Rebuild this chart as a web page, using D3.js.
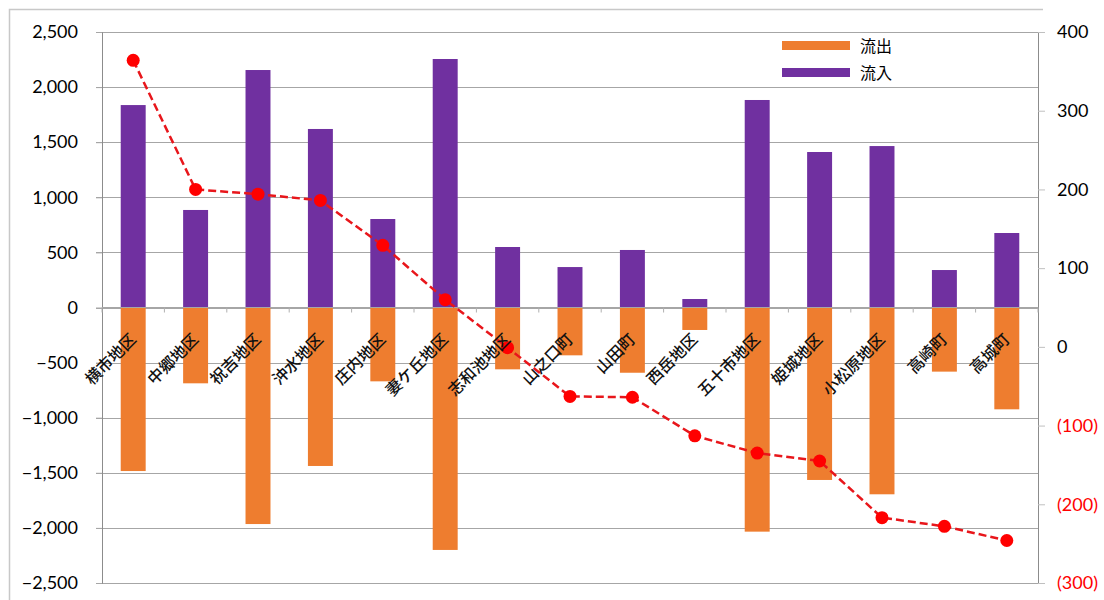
<!DOCTYPE html>
<html><head><meta charset="utf-8">
<script src="https://cdn.jsdelivr.net/npm/d3@7"></script>
<style>
html,body{margin:0;padding:0;background:#fff;}
svg{display:block;}
</style></head>
<body>
<svg id="chart" width="1104" height="600"></svg>
<script>
const categories = ["横市地区","中郷地区","祝吉地区","沖水地区","庄内地区","妻ケ丘地区","志和池地区","山之口町","山田町","西岳地区","五十市地区","姫城地区","小松原地区","高崎町","高城町"];
const inflow  = [1837, 885, 2155, 1620, 803, 2255, 549, 367, 522, 77, 1883, 1411, 1465, 340, 676];
const outflow = [-1484, -688, -1965, -1438, -670, -2200, -561, -434, -592, -204, -2034, -1565, -1695, -582, -924];
const net     = [364, 200, 194, 186, 129, 60, -1, -63, -64, -113, -135, -145, -217, -228, -246];
const leftTicks  = [2500, 2000, 1500, 1000, 500, 0, -500, -1000, -1500, -2000, -2500];
const rightTicks = [400, 300, 200, 100, 0, -100, -200, -300];
const seriesNames = ["流出", "流入"];

const svg = d3.select("#chart");
const L = 102, R = 1038, T = 32, B = 583;
const numFont = "Lato, 'Open Sans', sans-serif";
const cjkFont = "'Noto Sans CJK JP', 'Noto Sans', sans-serif";
const cOut = "#EE7D2F", cIn = "#7030A0", cNet = "#E8161B";

// outer frame
svg.append("path").attr("d", `M9.5,600 V9.5 H1043`).attr("fill","none").attr("stroke","#c8c8c8").attr("stroke-width",1.5);

const x = d3.scaleBand().domain(categories).range([L, R]).paddingInner(0.6).paddingOuter(0.3);
const yL = d3.scaleLinear().domain([-2500, 2500]).range([B, T]);
const yR = d3.scaleLinear().domain([-300, 400]).range([B, T]);

// gridlines
svg.append("g").selectAll("line").data(leftTicks).join("line")
  .attr("x1", L - 6).attr("x2", R)
  .attr("y1", d => Math.round(yL(d)) + 0.5).attr("y2", d => Math.round(yL(d)) + 0.5)
  .attr("stroke", "#a6a6a6").attr("stroke-width", 1);

// left axis
const axL = svg.append("g").attr("transform", `translate(${L},0)`)
  .call(d3.axisLeft(yL).tickValues(leftTicks).tickSize(6).tickPadding(18).tickFormat(d3.format(",")));
axL.select(".domain").attr("stroke", "#8c8c8c");
axL.selectAll(".tick line").attr("stroke", "#a6a6a6");
axL.selectAll("text").attr("font-family", numFont).attr("font-size", 18).attr("fill", "#000");

// right axis
const axR = svg.append("g").attr("transform", `translate(${R},0)`)
  .call(d3.axisRight(yR).tickValues(rightTicks).tickSize(7).tickPadding(12)
    .tickFormat(d => d < 0 ? `(${Math.abs(d)})` : d));
axR.select(".domain").attr("stroke", "#8c8c8c");
axR.selectAll(".tick line").attr("stroke", "#c0c0c0");
axR.selectAll("text").attr("font-family", numFont).attr("font-size", 18)
  .attr("fill", d => d < 0 ? "#FF0000" : "#000");

// bars
svg.append("g").selectAll("rect").data(categories).join("rect")
  .attr("x", d => x(d)).attr("width", x.bandwidth())
  .attr("y", (d, i) => yL(inflow[i])).attr("height", (d, i) => yL(0) - yL(inflow[i]))
  .attr("fill", cIn);
svg.append("g").selectAll("rect").data(categories).join("rect")
  .attr("x", d => x(d)).attr("width", x.bandwidth())
  .attr("y", yL(0)).attr("height", (d, i) => yL(outflow[i]) - yL(0))
  .attr("fill", cOut);

// zero line + minor ticks
svg.append("line").attr("x1", L).attr("x2", R).attr("y1", yL(0)).attr("y2", yL(0))
  .attr("stroke", "#a6a6a6");
const step = x.step();
svg.append("g").selectAll("line").data(d3.range(categories.length + 1)).join("line")
  .attr("x1", i => x(categories[0]) + x.bandwidth()/2 - step/2 + i*step)
  .attr("x2", i => x(categories[0]) + x.bandwidth()/2 - step/2 + i*step)
  .attr("y1", yL(0)).attr("y2", yL(0) + 5).attr("stroke", "#b0b0b0");

// net line
const cx = d => x(d) + x.bandwidth()/2;
const line = d3.line().x((d, i) => cx(categories[i])).y(d => yR(d));
svg.append("path").datum(net).attr("d", line).attr("fill", "none")
  .attr("stroke", cNet).attr("stroke-width", 2.5).attr("stroke-dasharray", "8,4");
svg.append("g").selectAll("circle").data(net).join("circle")
  .attr("cx", (d, i) => cx(categories[i])).attr("cy", d => yR(d)).attr("r", 6.5)
  .attr("fill", "#FF0000");

// category labels
svg.append("g").selectAll("text").data(categories).join("text")
  .attr("transform", d => `translate(${cx(d) + 4},${yL(0) + 33}) rotate(-45)`)
  .attr("text-anchor", "end")
  .attr("font-family", cjkFont).attr("font-size", 16).attr("font-weight", 500).attr("fill", "#111")
  .text(d => d);

// legend
const lg = svg.append("g");
const colors = [cOut, cIn];
seriesNames.forEach((s, i) => {
  lg.append("rect").attr("x", 782).attr("y", 41 + i*27).attr("width", 68).attr("height", 9).attr("fill", colors[i]);
  lg.append("text").attr("x", 860).attr("y", 46 + i*27).attr("dy", "0.35em")
    .attr("font-family", cjkFont).attr("font-size", 16).attr("fill", "#000").text(s);
});
</script>
</body></html>
